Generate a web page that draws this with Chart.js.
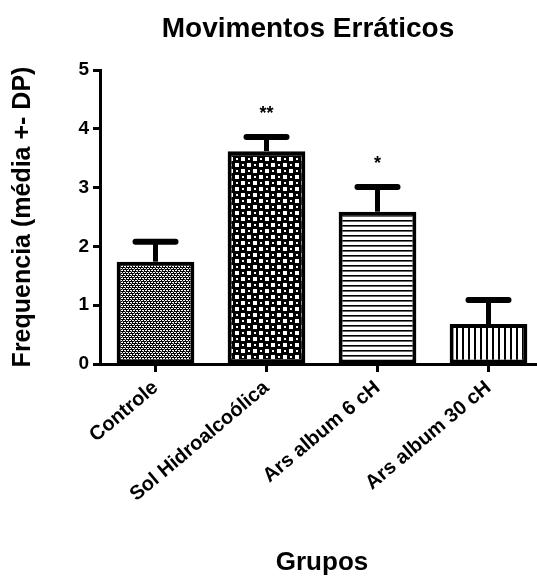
<!DOCTYPE html>
<html>
<head>
<meta charset="utf-8">
<script src="https://cdn.jsdelivr.net/npm/chart.js@4"></script>
<style>
  html, body { margin: 0; padding: 0; background: #fff; overflow: hidden; }
  #wrap { width: 544px; height: 579px; position: relative; }
</style>
</head>
<body>
<div id="wrap"><canvas id="Chart1"></canvas></div>
<script>
        // data
        var groups = ['Controle', 'Sol Hidroalcoólica', 'Ars album 6 cH', 'Ars album 30 cH'];
        var means = [1.74, 3.62, 2.59, 0.68];
        var sdUp = [0.34, 0.24, 0.42, 0.41];
        var signif = ['', '**', '*', ''];
        var yTicks = [0, 1, 2, 3, 4, 5];

        var FONT = "'Liberation Sans', Arial, sans-serif";

        // fill patterns, one per bar
        function makePattern(w, h, draw) {
        var c = document.createElement('canvas');
        c.width = w;
        c.height = h;
        var g = c.getContext('2d');
        draw(g);
        return g.createPattern(c, 'repeat');
        }

        var pControle = makePattern(6, 4, function(g) {
            g.fillStyle = '#000'; g.fillRect(0, 0, 6, 4);
            g.fillStyle = '#fff';
            g.fillRect(0, 0, 2, 1);
            g.fillRect(3, 0, 2, 1);
            g.fillRect(1, 2, 2, 1);
            g.fillRect(4, 2, 2, 1);
            g.fillStyle = '#999';
            g.fillRect(2, 1, 1, 1);
            g.fillRect(5, 3, 1, 1);
        });
        var pSol = makePattern(12, 12, function(g) {
            g.fillStyle = '#000'; g.fillRect(0, 0, 12, 12);
            g.fillStyle = '#fff';
            g.fillRect(1, 1, 4, 4);
            g.fillRect(7, 7, 4, 4);
            g.fillRect(8, 2, 2, 2);
            g.fillRect(2, 8, 2, 2);
        });
        var p6 = makePattern(4, 5, function(g) {
            g.fillStyle = '#fff'; g.fillRect(0, 0, 4, 5);
            g.fillStyle = '#000'; g.fillRect(0, 0, 4, 1);
            g.fillStyle = '#666'; g.fillRect(0, 1, 4, 1);
        });
        var p30 = makePattern(6, 4, function(g) {
            g.fillStyle = '#fff'; g.fillRect(0, 0, 6, 4);
            g.fillStyle = '#000'; g.fillRect(0, 0, 2, 4);
        });

        // title sits a bit left of the plot centre in the original
        var titleShift = {
        id: 'titleShift',
        afterLayout: function(chart) {
            if (chart.titleBlock) {
            chart.titleBlock.left -= 28;
            }
        }
        };

        // error bars + significance marks
        var errorBars = {
        id: 'errorBars',
        afterDatasetsDraw: function(chart) {
            var ctx = chart.ctx;
            var y = chart.scales.y;
            var meta = chart.getDatasetMeta(0);
            ctx.save();
            ctx.strokeStyle = '#000';
            ctx.fillStyle = '#000';
            meta.data.forEach(function(bar, i) {
            var top = y.getPixelForValue(means[i] + sdUp[i]);
            var base = y.getPixelForValue(means[i]);
            ctx.lineCap = 'butt';
            ctx.lineWidth = 5;
            ctx.beginPath();
            ctx.moveTo(bar.x, base);
            ctx.lineTo(bar.x, top);
            ctx.stroke();
            ctx.lineCap = 'round';
            ctx.lineWidth = 6;
            ctx.beginPath();
            ctx.moveTo(bar.x - 20, top);
            ctx.lineTo(bar.x + 20, top);
            ctx.stroke();
            if (signif[i]) {
                ctx.font = 'bold 18px ' + FONT;
                ctx.textAlign = 'center';
                ctx.textBaseline = 'alphabetic';
                ctx.fillText(signif[i], bar.x, top - 18);
            }
            });
            ctx.restore();
        }
        };

        var barChart1 = new Chart("Chart1", {
            type: "bar",
            data: {
                labels: groups,
                datasets: [{
                data: means,
                backgroundColor: [pControle, pSol, p6, p30],
                borderColor: '#000',
                borderWidth: 4,
                borderSkipped: false,
                barPercentage: 0.7,
                categoryPercentage: 1
            }]
            },
            options: {
                responsive: true,
                maintainAspectRatio: false,
                animation: false,
                layout: { padding: 0 },
                plugins: {
                legend: { display: false },
                tooltip: { enabled: false },
                title: {
                    display: true,
                    text: 'Movimentos Erráticos',
                    color: '#000',
                    fullSize: false,
                    font: { family: FONT, size: 28, weight: 'bold', lineHeight: 1 },
                    padding: { top: 15, bottom: 27 }
                }
                },
                scales: {
                x: {
                    afterFit: function(scale) { scale.height = 215; },
                    grid: {
                    display: true,
                    drawOnChartArea: false,
                    drawTicks: true,
                    tickLength: 8,
                    tickWidth: 3,
                    tickColor: '#000',
                    offset: false
                    },
                    border: { display: true, color: '#000', width: 3 },
                    ticks: {
                    color: '#000',
                    minRotation: 40,
                    maxRotation: 40,
                    padding: 4,
                    font: { family: FONT, size: 20, weight: 'bold' }
                    },
                    title: {
                    display: true,
                    text: 'Grupos',
                    color: '#000',
                    font: { family: FONT, size: 26, weight: 'bold', lineHeight: 1.2 },
                    padding: { top: 0, bottom: 1 }
                    }
                },
                y: {
                    min: 0,
                    max: 5,
                    afterFit: function(scale) { scale.width = 100; },
                    afterBuildTicks: function(scale) {
                    scale.ticks = yTicks.map(function(v) { return { value: v }; });
                    },
                    grid: {
                    display: true,
                    drawOnChartArea: false,
                    drawTicks: true,
                    tickLength: 7,
                    tickWidth: 3,
                    tickColor: '#000'
                    },
                    border: { display: true, color: '#000', width: 3 },
                    ticks: {
                    color: '#000',
                    padding: 4,
                    font: { family: FONT, size: 19, weight: 'bold' }
                    },
                    title: {
                    display: true,
                    text: 'Frequencia (média +- DP)',
                    color: '#000',
                    font: { family: FONT, size: 25, weight: 'bold', lineHeight: 1.2 },
                    padding: { top: 8, bottom: 0 }
                    }
                }
                }
            },
            plugins: [titleShift, errorBars]
        });
</script>
</body>
</html>
